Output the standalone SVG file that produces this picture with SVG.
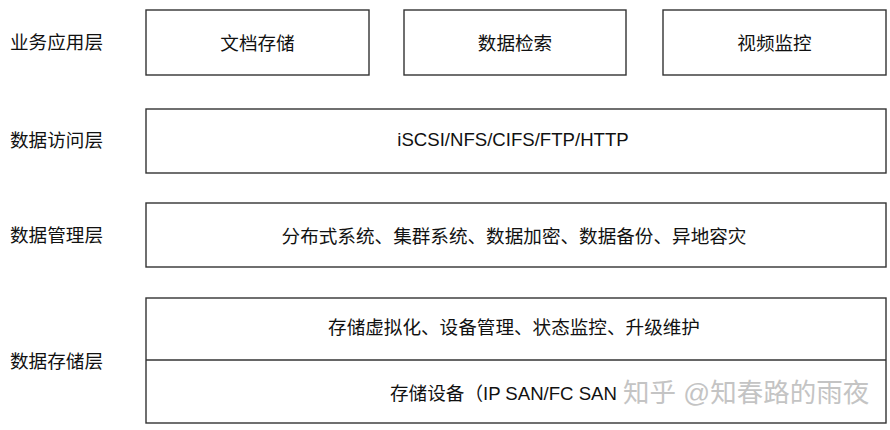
<svg xmlns="http://www.w3.org/2000/svg" width="890" height="430" viewBox="0 0 890 430">
<style>
.box{fill:#fff;stroke:#333;stroke-width:1.4}
.line{stroke:#333;stroke-width:1.4}
text{font-family:"Liberation Sans","Noto Sans CJK SC",sans-serif;font-size:18.6px;fill:#111;dominant-baseline:central}
.c{text-anchor:middle}
.wm{font-size:26.5px;fill:#c4c4c4;stroke:#fff;stroke-width:3px;paint-order:stroke}
</style>
<rect width="890" height="430" fill="#fff"/>
<g id="labels">
<text x="10" y="42">业务应用层</text>
<text x="10" y="140">数据访问层</text>
<text x="10" y="235">数据管理层</text>
<text x="10" y="361">数据存储层</text>
</g>
<g id="doc-storage"><rect class="box" x="146" y="10" width="223" height="65"/><text class="c" x="257.5" y="43">文档存储</text></g>
<g id="data-search"><rect class="box" x="404" y="10" width="222" height="65"/><text class="c" x="515" y="43">数据检索</text></g>
<g id="video-monitor"><rect class="box" x="663" y="10" width="223" height="65"/><text class="c" x="774.5" y="43">视频监控</text></g>
<g id="access"><rect class="box" x="146" y="109" width="740" height="64"/><text class="c" x="513" y="139">iSCSI/NFS/CIFS/FTP/HTTP</text></g>
<g id="management"><rect class="box" x="146" y="203" width="740" height="64"/><text class="c" x="514" y="236">分布式系统、集群系统、数据加密、数据备份、异地容灾</text></g>
<g id="storage">
<rect class="box" x="146" y="298" width="740" height="125"/>
<line class="line" x1="146" y1="360" x2="886" y2="360"/>
<text class="c" x="514" y="327">存储虚拟化、设备管理、状态监控、升级维护</text>
<text x="390" y="393">存储设备（IP SAN/FC SAN</text>
<text class="wm" x="623" y="393">知乎 @知春路的雨夜</text>
</g>
<g id="connectors"></g>
</svg>
